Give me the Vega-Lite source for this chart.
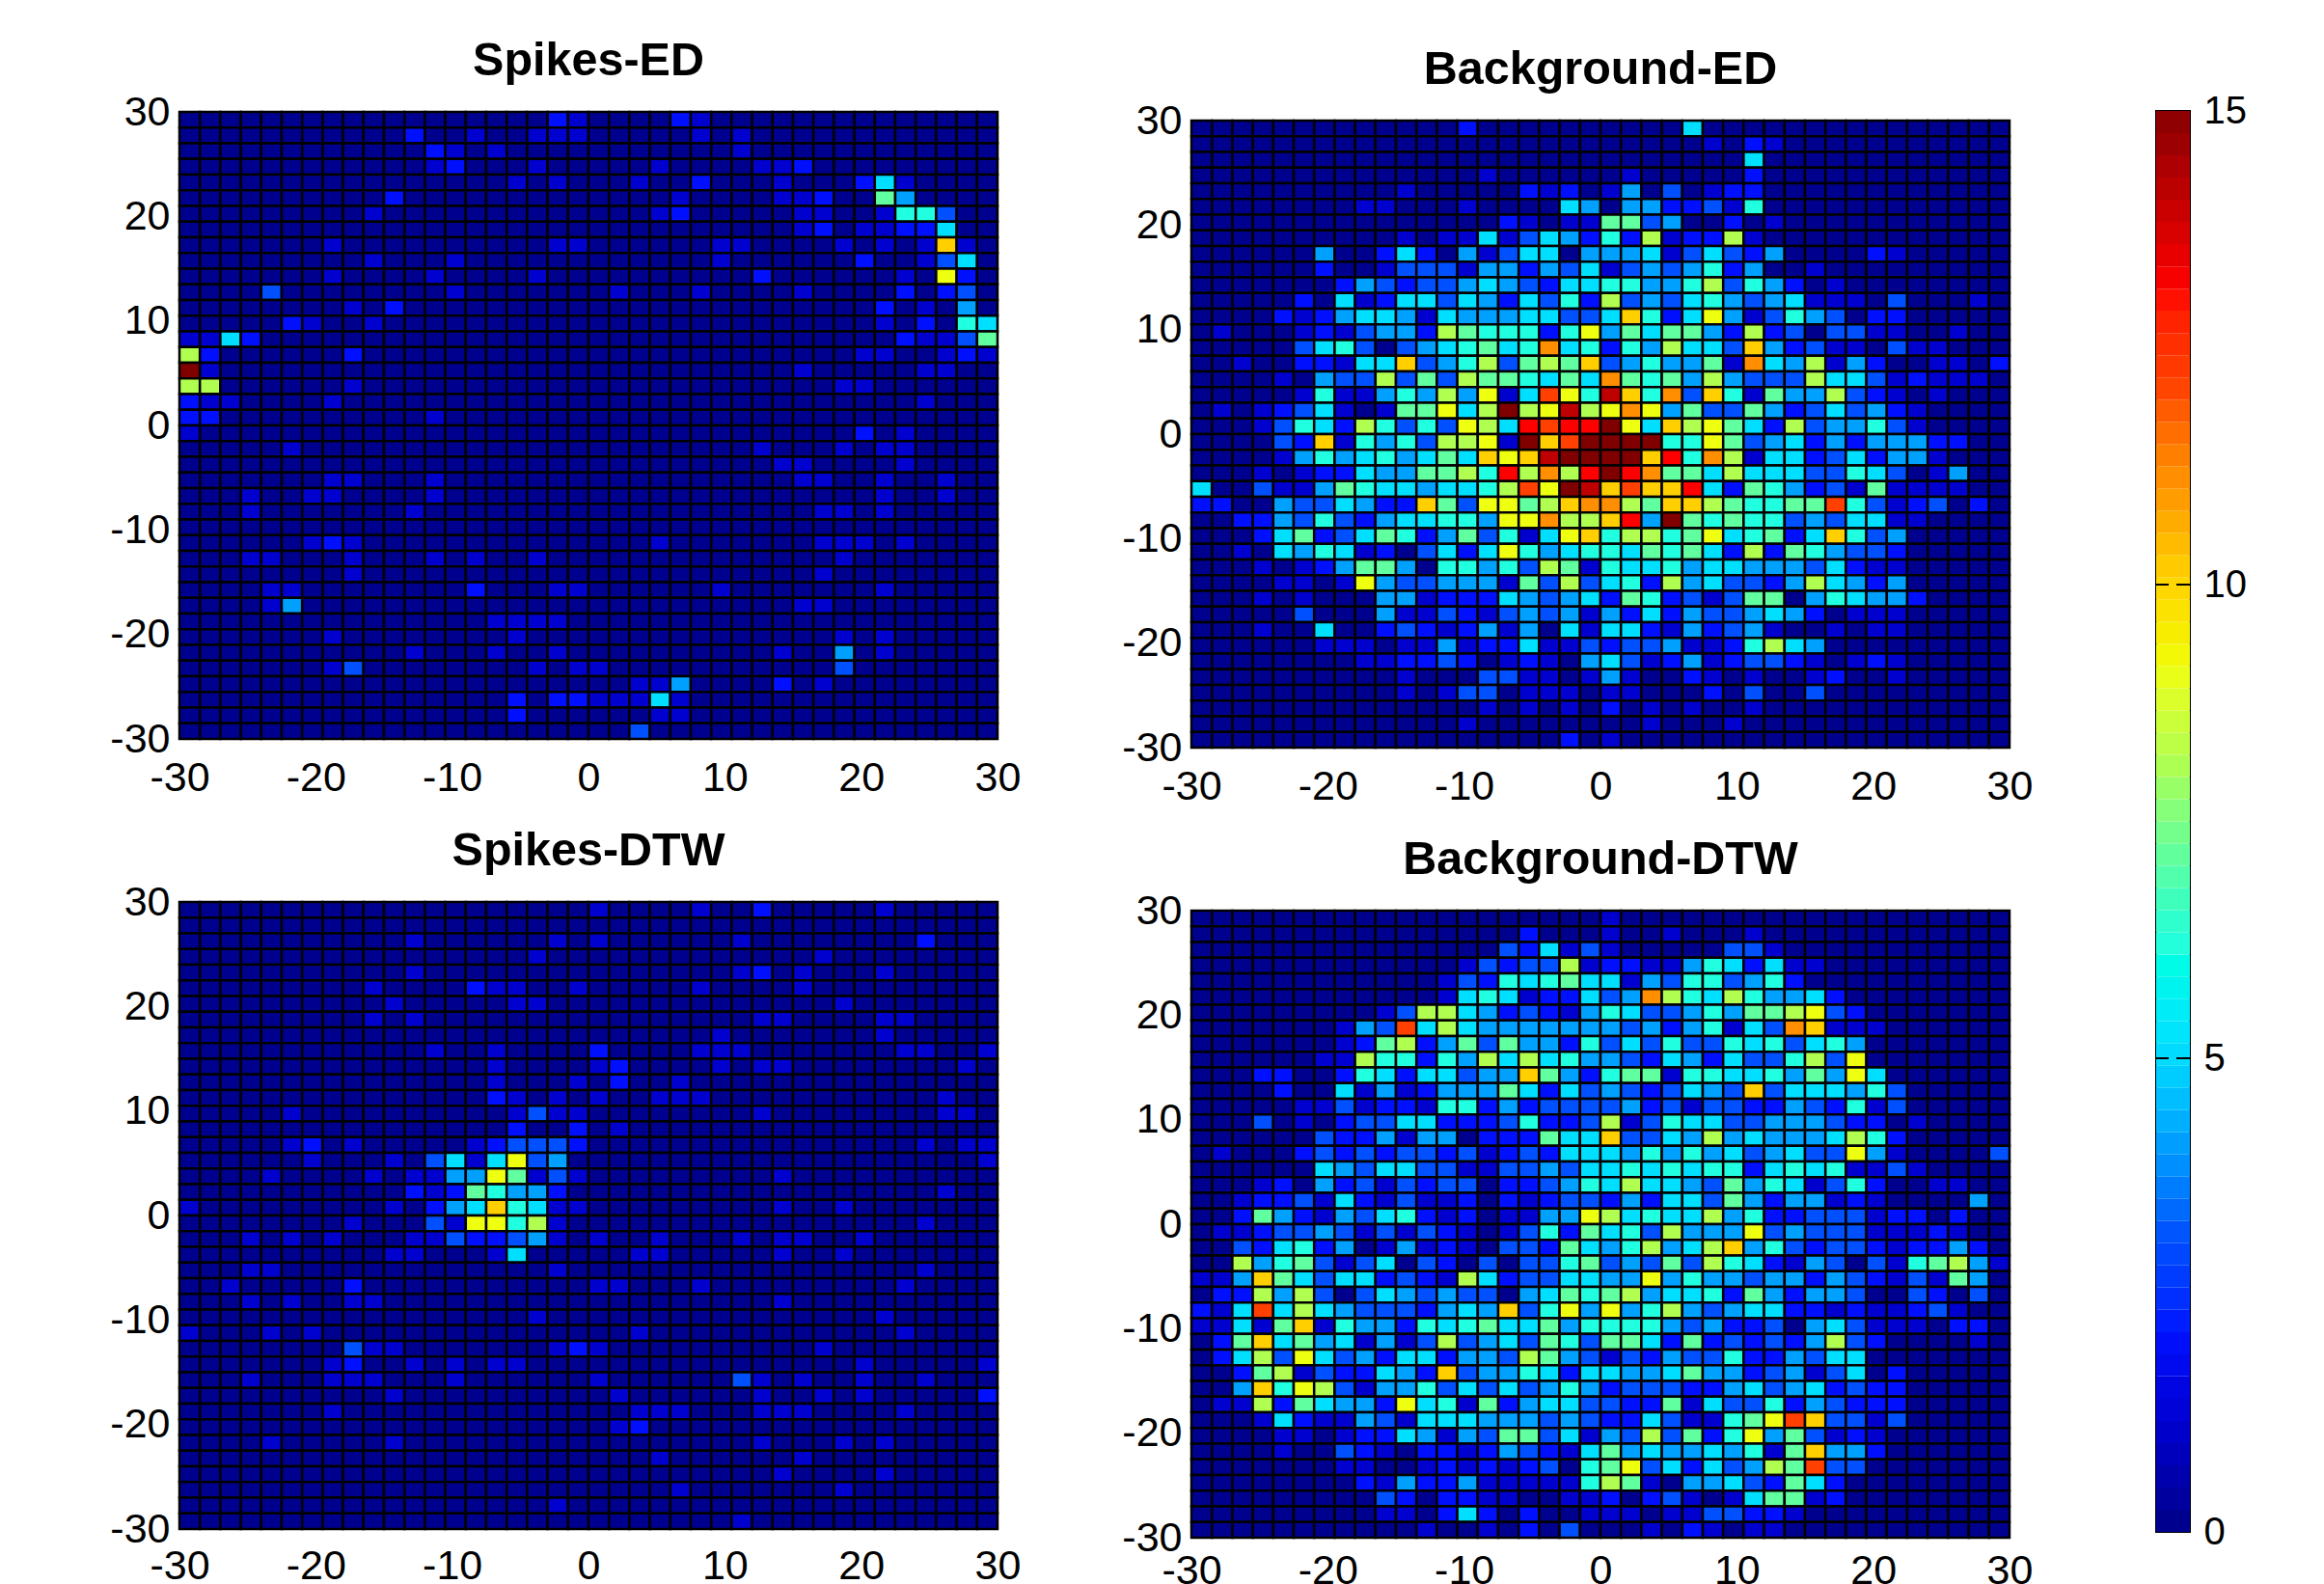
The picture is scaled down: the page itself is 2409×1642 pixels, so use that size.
{"$schema":"https://vega.github.io/schema/vega-lite/v6.json","padding":{"left":112,"top":9,"right":0,"bottom":0},"background":"white","spacing":125,
"config":{"view":{"stroke":"black","strokeWidth":2},"font":"Liberation Sans","axis":{"labelFont":"Liberation Sans","labelFontSize":43,"labelColor":"black","tickSize":0,"domain":false,"grid":false,"title":null,"labelOverlap":false,"labelFlush":false},"axisX":{"labelPadding":19},"axisY":{"labelPadding":10},"title":{"font":"Liberation Sans","fontSize":48.5,"fontWeight":"bold","color":"black","anchor":"middle","offset":7}},
"datasets":{
"none":[],
"cols":[{"c":1,"x0":-30,"x1":-28.5},{"c":2,"x0":-28.5,"x1":-27},{"c":3,"x0":-27,"x1":-25.5},{"c":4,"x0":-25.5,"x1":-24},{"c":5,"x0":-24,"x1":-22.5},{"c":6,"x0":-22.5,"x1":-21},{"c":7,"x0":-21,"x1":-19.5},{"c":8,"x0":-19.5,"x1":-18},{"c":9,"x0":-18,"x1":-16.5},{"c":10,"x0":-16.5,"x1":-15},{"c":11,"x0":-15,"x1":-13.5},{"c":12,"x0":-13.5,"x1":-12},{"c":13,"x0":-12,"x1":-10.5},{"c":14,"x0":-10.5,"x1":-9},{"c":15,"x0":-9,"x1":-7.5},{"c":16,"x0":-7.5,"x1":-6},{"c":17,"x0":-6,"x1":-4.5},{"c":18,"x0":-4.5,"x1":-3},{"c":19,"x0":-3,"x1":-1.5},{"c":20,"x0":-1.5,"x1":0},{"c":21,"x0":0,"x1":1.5},{"c":22,"x0":1.5,"x1":3},{"c":23,"x0":3,"x1":4.5},{"c":24,"x0":4.5,"x1":6},{"c":25,"x0":6,"x1":7.5},{"c":26,"x0":7.5,"x1":9},{"c":27,"x0":9,"x1":10.5},{"c":28,"x0":10.5,"x1":12},{"c":29,"x0":12,"x1":13.5},{"c":30,"x0":13.5,"x1":15},{"c":31,"x0":15,"x1":16.5},{"c":32,"x0":16.5,"x1":18},{"c":33,"x0":18,"x1":19.5},{"c":34,"x0":19.5,"x1":21},{"c":35,"x0":21,"x1":22.5},{"c":36,"x0":22.5,"x1":24},{"c":37,"x0":24,"x1":25.5},{"c":38,"x0":25.5,"x1":27},{"c":39,"x0":27,"x1":28.5},{"c":40,"x0":28.5,"x1":30}],
"spikesED":[
{"y0":28.5,"y1":30,"v":[0,0,0,0,0,0,0,0,0,0, 0,0,0,0,0,0,0,0,2,1, 0,0,0,0,2,1,0,0,0,0, 0,0,0,0,0,0,0,0,0,0]},
{"y0":27,"y1":28.5,"v":[0,0,0,0,0,0,0,0,0,0, 0,2,0,0,1,0,0,1,1,1, 0,0,0,0,0,1,0,1,0,0, 0,0,0,0,0,0,0,0,0,0]},
{"y0":25.5,"y1":27,"v":[0,0,0,0,0,0,0,0,0,0, 0,0,2,1,0,1,0,0,0,0, 0,0,0,0,0,0,0,1,0,0, 0,0,0,0,0,0,0,0,0,0]},
{"y0":24,"y1":25.5,"v":[0,0,0,0,0,0,0,0,0,0, 0,0,1,2,0,0,0,1,0,0, 0,0,0,1,0,0,0,0,1,1, 2,0,0,0,0,0,0,0,0,0]},
{"y0":22.5,"y1":24,"v":[0,0,0,0,0,0,0,0,0,0, 0,0,0,0,0,0,1,0,1,0, 0,0,1,0,0,2,0,0,0,1, 0,0,0,2,5,1,0,0,0,0]},
{"y0":21,"y1":22.5,"v":[0,0,0,0,0,0,0,0,0,0, 2,0,0,0,0,0,0,0,0,0, 0,0,0,0,1,0,0,0,0,1, 1,2,0,0,7,4,0,0,0,0]},
{"y0":19.5,"y1":21,"v":[0,0,0,0,0,0,0,0,0,1, 0,0,0,0,0,0,0,0,0,0, 0,0,0,1,2,0,0,0,0,0, 1,1,0,0,1,6,6,3,0,0]},
{"y0":18,"y1":19.5,"v":[0,0,0,0,0,0,0,0,0,0, 0,0,0,0,0,0,0,0,0,0, 0,0,0,0,0,0,0,0,0,0, 1,2,0,1,1,2,2,5,0,0]},
{"y0":16.5,"y1":18,"v":[0,0,0,0,0,0,0,1,0,0, 0,0,0,0,0,0,0,0,1,1, 0,0,0,0,0,0,1,1,0,0, 0,0,1,0,1,0,1,10,1,0]},
{"y0":15,"y1":16.5,"v":[0,0,0,0,0,0,0,0,0,1, 0,0,0,1,0,0,0,0,0,0, 0,0,0,0,0,0,1,0,0,0, 0,0,0,2,0,0,1,3,5,0]},
{"y0":13.5,"y1":15,"v":[0,0,0,0,0,0,0,1,0,0, 0,0,1,0,0,0,0,1,0,0, 0,0,0,0,0,0,0,0,2,0, 0,0,0,0,0,1,0,9,2,0]},
{"y0":12,"y1":13.5,"v":[0,0,0,0,3,0,0,0,0,0, 0,0,0,1,0,0,0,0,0,0, 0,1,0,0,0,1,0,0,0,0, 1,0,0,0,0,2,0,2,3,0]},
{"y0":10.5,"y1":12,"v":[0,0,0,0,0,0,0,0,1,0, 2,0,0,0,0,0,0,0,0,0, 0,0,0,0,0,0,0,0,0,0, 0,0,0,0,2,0,1,0,4,0]},
{"y0":9,"y1":10.5,"v":[0,0,0,0,0,2,1,0,0,1, 0,0,0,0,0,0,0,0,0,0, 0,0,0,0,0,0,0,0,0,0, 0,0,0,0,1,0,2,0,6,5]},
{"y0":7.5,"y1":9,"v":[1,1,5,2,0,0,0,0,0,0, 0,0,0,0,0,0,0,0,0,0, 0,0,0,0,0,0,0,0,0,0, 0,0,0,0,0,2,1,1,3,7]},
{"y0":6,"y1":7.5,"v":[8,2,0,0,0,0,0,0,2,0, 0,0,0,0,0,0,0,0,0,0, 0,0,0,0,0,0,0,0,0,0, 0,0,0,1,1,0,0,1,2,1]},
{"y0":4.5,"y1":6,"v":[15,1,0,0,0,0,0,0,0,0, 0,0,0,0,0,0,0,0,0,0, 0,0,0,0,0,0,0,0,0,0, 1,0,0,0,0,0,1,1,0,0]},
{"y0":3,"y1":4.5,"v":[8,8,0,0,0,0,0,0,1,0, 0,0,0,0,0,0,0,0,0,0, 0,0,0,0,0,0,0,0,0,0, 0,0,1,1,0,0,0,0,0,0]},
{"y0":1.5,"y1":3,"v":[2,1,1,0,0,0,0,1,0,0, 0,0,0,0,0,0,0,0,0,0, 0,0,0,0,0,0,0,0,0,0, 0,0,0,0,0,0,1,0,0,0]},
{"y0":0,"y1":1.5,"v":[2,2,0,0,0,0,0,0,0,0, 0,0,1,0,0,0,0,0,0,0, 0,0,0,0,0,0,0,0,0,0, 0,0,0,0,0,0,0,0,0,0]},
{"y0":-1.5,"y1":0,"v":[1,0,0,0,0,0,0,0,0,0, 0,0,0,0,0,0,0,0,0,0, 0,0,0,0,0,0,0,0,0,0, 0,0,0,2,0,1,0,0,0,0]},
{"y0":-3,"y1":-1.5,"v":[0,0,0,0,0,1,0,0,0,0, 0,0,0,0,0,0,0,0,0,0, 0,0,0,0,0,0,0,0,1,0, 0,0,1,0,1,1,0,0,0,0]},
{"y0":-4.5,"y1":-3,"v":[0,0,0,0,0,0,0,0,0,0, 0,0,0,0,0,0,0,0,0,0, 0,0,0,0,0,0,0,0,0,1, 1,0,0,0,0,1,0,0,0,0]},
{"y0":-6,"y1":-4.5,"v":[0,0,0,0,0,0,0,1,1,0, 0,0,1,0,0,0,0,0,0,0, 0,0,0,0,0,0,0,0,0,0, 1,1,0,0,1,0,0,1,0,0]},
{"y0":-7.5,"y1":-6,"v":[0,0,0,1,0,0,1,1,0,0, 0,0,1,0,0,0,0,0,0,0, 0,0,0,0,0,0,0,0,0,0, 0,0,0,0,1,0,0,1,0,0]},
{"y0":-9,"y1":-7.5,"v":[0,0,0,1,0,0,0,0,0,0, 0,1,0,0,0,0,0,0,0,0, 0,0,0,0,0,0,0,0,0,0, 0,1,1,0,1,0,0,0,0,0]},
{"y0":-10.5,"y1":-9,"v":[0,0,0,0,0,0,0,0,0,0, 0,0,0,0,0,0,0,0,0,0, 0,0,0,0,0,0,0,0,0,0, 0,0,0,0,0,0,0,0,0,0]},
{"y0":-12,"y1":-10.5,"v":[0,0,0,0,0,0,1,2,1,0, 0,0,0,0,0,0,0,0,0,0, 0,0,0,1,0,0,0,0,0,0, 0,1,1,1,0,1,0,0,0,0]},
{"y0":-13.5,"y1":-12,"v":[0,0,0,1,1,0,0,0,1,0, 0,0,1,0,1,0,0,1,0,0, 0,0,0,0,0,0,0,0,0,0, 0,0,1,0,0,0,0,0,0,0]},
{"y0":-15,"y1":-13.5,"v":[0,0,0,0,0,0,0,0,1,0, 0,0,0,0,0,0,0,0,0,0, 0,0,0,0,0,0,0,0,0,0, 0,1,0,0,0,0,0,0,0,0]},
{"y0":-16.5,"y1":-15,"v":[0,0,0,0,1,1,0,0,0,0, 0,0,0,0,2,0,0,0,1,1, 0,0,0,0,0,0,1,0,0,0, 0,0,0,0,1,0,0,0,0,0]},
{"y0":-18,"y1":-16.5,"v":[0,0,0,0,1,4,0,0,0,0, 0,0,0,0,0,0,0,0,0,0, 0,0,0,0,0,0,0,0,0,0, 1,1,0,0,0,0,0,0,0,0]},
{"y0":-19.5,"y1":-18,"v":[0,0,0,0,0,0,0,0,0,0, 0,0,0,0,0,1,1,1,1,0, 0,0,0,0,0,0,0,0,0,0, 0,0,0,0,0,0,0,0,0,0]},
{"y0":-21,"y1":-19.5,"v":[0,0,0,0,0,0,0,1,0,0, 0,0,0,0,0,0,1,0,0,0, 0,0,0,0,0,0,0,0,0,0, 0,0,1,0,1,0,0,0,0,0]},
{"y0":-22.5,"y1":-21,"v":[0,0,0,0,0,0,0,0,0,0, 0,1,0,0,0,1,0,0,1,0, 0,0,0,0,0,0,0,0,0,1, 0,0,4,0,1,0,0,0,0,0]},
{"y0":-24,"y1":-22.5,"v":[0,0,0,0,0,0,0,1,3,0, 0,0,0,0,0,0,0,1,0,1, 1,0,0,0,0,0,0,0,0,0, 0,0,3,0,0,0,0,0,0,0]},
{"y0":-25.5,"y1":-24,"v":[0,0,0,0,0,0,0,0,0,0, 0,0,0,0,0,0,0,0,0,0, 0,0,1,1,4,0,0,0,0,2, 0,1,0,0,0,0,0,0,0,0]},
{"y0":-27,"y1":-25.5,"v":[0,0,0,0,0,0,0,0,0,0, 0,0,0,0,0,0,2,0,2,2, 1,1,1,5,1,0,0,0,0,0, 0,0,0,0,0,0,0,0,0,0]},
{"y0":-28.5,"y1":-27,"v":[0,0,0,0,0,0,0,0,0,0, 0,0,0,0,0,0,2,0,0,0, 0,0,0,1,1,0,0,0,0,0, 0,0,0,0,0,0,0,0,0,0]},
{"y0":-30,"y1":-28.5,"v":[0,0,0,0,0,0,0,0,0,0, 0,0,0,0,0,0,0,0,0,0, 0,0,3,0,0,0,0,0,0,0, 0,0,0,0,0,0,0,0,0,0]}
],
"spikesDTW":[
{"y0":28.5,"y1":30,"v":[0,0,0,0,0,0,0,0,0,0, 0,0,0,0,0,0,0,0,0,0, 1,0,0,0,0,1,0,0,2,0, 0,0,0,0,1,0,0,0,0,0]},
{"y0":27,"y1":28.5,"v":[0,0,0,0,0,0,0,0,0,0, 0,0,0,0,0,0,0,0,0,0, 0,0,0,0,0,0,0,0,0,0, 0,0,0,0,0,0,0,0,0,0]},
{"y0":25.5,"y1":27,"v":[0,0,0,0,0,0,0,0,0,0, 0,1,0,0,0,0,0,0,1,0, 1,0,0,0,0,0,0,1,0,0, 0,0,0,0,0,0,2,0,0,0]},
{"y0":24,"y1":25.5,"v":[0,0,0,0,0,0,0,0,0,0, 0,0,0,0,0,0,0,1,0,0, 0,0,0,0,0,0,0,0,0,0, 0,1,0,0,0,0,0,0,0,0]},
{"y0":22.5,"y1":24,"v":[0,0,0,0,0,0,0,0,0,0, 0,1,0,0,0,0,0,0,0,0, 0,0,0,0,0,0,0,1,2,0, 1,0,0,0,1,0,0,0,0,0]},
{"y0":21,"y1":22.5,"v":[0,0,0,0,0,0,0,0,0,1, 0,0,0,0,2,1,1,0,0,1, 0,0,0,0,0,1,0,0,0,0, 1,0,0,0,0,0,0,0,0,0]},
{"y0":19.5,"y1":21,"v":[0,0,0,0,0,0,0,0,0,0, 1,0,0,0,0,0,1,1,0,0, 0,0,0,0,0,0,0,0,0,0, 0,0,1,0,0,0,0,0,0,0]},
{"y0":18,"y1":19.5,"v":[0,0,0,0,0,0,0,0,0,1, 0,1,0,0,0,0,0,0,0,0, 0,0,0,0,0,0,0,0,1,1, 0,0,0,0,1,1,0,0,0,0]},
{"y0":16.5,"y1":18,"v":[0,0,0,0,0,0,0,0,0,0, 0,0,0,0,0,0,0,0,0,0, 0,0,0,0,0,0,1,0,0,0, 0,0,0,0,1,0,0,0,0,0]},
{"y0":15,"y1":16.5,"v":[0,0,0,0,0,0,0,0,0,0, 0,0,1,0,0,1,0,0,0,0, 2,0,0,0,0,1,1,1,0,0, 0,0,0,0,0,1,1,0,0,1]},
{"y0":13.5,"y1":15,"v":[0,0,0,0,0,0,0,0,0,0, 0,0,0,0,0,1,0,0,0,0, 1,2,0,0,0,0,1,0,1,1, 0,0,0,0,0,0,0,0,1,0]},
{"y0":12,"y1":13.5,"v":[0,0,0,0,0,0,0,0,0,0, 0,0,0,0,0,1,0,0,0,1, 0,2,0,0,1,0,0,0,0,0, 0,0,0,0,0,0,0,0,0,0]},
{"y0":10.5,"y1":12,"v":[0,0,0,0,0,0,0,0,0,0, 0,0,0,0,0,2,1,0,1,0, 1,0,0,1,1,1,0,0,0,0, 0,0,0,0,0,0,0,1,0,0]},
{"y0":9,"y1":10.5,"v":[0,0,0,0,0,1,0,0,0,0, 0,0,0,0,0,0,1,3,1,1, 0,0,0,0,0,0,0,0,1,0, 0,0,0,0,0,0,0,1,1,0]},
{"y0":7.5,"y1":9,"v":[0,0,0,0,0,0,0,0,0,0, 0,0,0,0,0,0,2,0,0,2, 0,1,0,0,0,0,0,0,0,0, 0,0,0,0,0,0,0,0,0,0]},
{"y0":6,"y1":7.5,"v":[0,0,0,0,0,1,2,0,1,0, 0,0,0,0,1,2,3,3,3,2, 0,0,0,0,0,0,0,0,0,0, 0,0,0,0,0,0,1,0,1,1]},
{"y0":4.5,"y1":6,"v":[0,0,0,0,0,0,1,0,0,0, 1,0,3,5,1,5,9,3,4,0, 0,0,0,0,0,0,0,0,0,0, 0,0,0,0,0,0,0,0,0,1]},
{"y0":3,"y1":4.5,"v":[0,0,0,0,1,0,0,0,0,1, 0,1,1,4,4,9,7,1,3,1, 0,0,0,0,0,0,0,0,0,1, 0,0,0,0,0,0,0,0,0,0]},
{"y0":1.5,"y1":3,"v":[0,0,0,0,0,0,0,0,0,0, 0,2,1,2,7,6,4,4,2,0, 0,0,0,0,0,0,0,0,0,0, 0,0,0,0,0,0,0,1,0,0]},
{"y0":0,"y1":1.5,"v":[1,0,0,0,0,0,0,0,0,0, 1,0,2,4,5,10,6,5,1,1, 0,0,0,0,0,0,0,0,0,1, 0,0,1,0,0,0,0,0,0,0]},
{"y0":-1.5,"y1":0,"v":[0,0,0,0,0,0,0,0,1,0, 0,0,3,1,9,9,6,8,1,0, 0,0,0,0,0,0,0,0,0,0, 0,0,0,0,0,0,1,0,0,0]},
{"y0":-3,"y1":-1.5,"v":[0,0,0,1,0,1,0,1,0,0, 0,1,1,3,2,2,3,4,1,0, 1,0,0,1,0,0,0,1,0,1, 1,0,0,1,0,0,0,0,0,0]},
{"y0":-4.5,"y1":-3,"v":[0,0,0,0,0,0,0,0,0,0, 1,1,0,0,0,1,5,0,0,0, 0,0,1,1,0,0,0,0,0,1, 0,0,1,0,0,0,0,0,0,0]},
{"y0":-6,"y1":-4.5,"v":[0,0,0,1,1,0,0,0,0,0, 0,0,0,0,0,0,0,0,1,0, 0,0,0,0,0,0,0,0,0,0, 0,0,0,0,0,0,1,0,0,0]},
{"y0":-7.5,"y1":-6,"v":[0,0,1,0,0,0,0,0,2,0, 0,0,0,0,0,0,0,0,0,0, 1,1,0,0,0,1,0,0,0,0, 0,0,0,0,0,1,0,0,0,0]},
{"y0":-9,"y1":-7.5,"v":[0,0,0,1,0,1,0,0,1,1, 0,0,0,0,0,0,0,0,0,0, 0,0,0,0,0,0,0,0,0,1, 0,0,0,0,0,0,0,0,0,0]},
{"y0":-10.5,"y1":-9,"v":[0,0,0,0,0,0,0,0,0,0, 0,0,0,0,0,0,0,1,0,0, 0,0,0,0,0,0,0,0,0,0, 0,0,0,0,1,0,0,0,0,0]},
{"y0":-12,"y1":-10.5,"v":[1,0,0,0,1,0,1,0,0,0, 0,0,0,0,0,0,0,0,0,0, 0,0,1,0,0,0,0,0,0,0, 0,0,0,0,0,1,0,0,0,0]},
{"y0":-13.5,"y1":-12,"v":[0,0,0,0,0,0,0,0,3,1, 1,0,0,0,0,0,0,0,1,2, 1,0,0,0,0,0,0,0,0,0, 0,1,0,0,0,0,0,0,0,0]},
{"y0":-15,"y1":-13.5,"v":[0,0,0,0,0,0,0,1,2,0, 0,1,0,1,0,1,1,0,0,0, 0,0,0,0,0,0,0,0,0,0, 0,0,0,1,0,0,0,0,0,1]},
{"y0":-16.5,"y1":-15,"v":[0,0,0,1,0,0,0,1,1,1, 0,0,0,1,0,0,0,0,0,0, 1,0,0,0,0,0,0,3,1,0, 1,0,0,1,0,0,1,0,0,0]},
{"y0":-18,"y1":-16.5,"v":[0,0,0,0,0,0,0,0,0,0, 1,0,0,0,0,0,0,0,0,0, 0,1,0,0,0,0,0,0,1,0, 0,1,0,1,0,0,0,0,0,2]},
{"y0":-19.5,"y1":-18,"v":[0,0,0,0,0,0,0,1,0,0, 0,0,0,0,0,0,0,0,0,0, 0,0,1,1,1,0,0,0,1,1, 1,0,0,0,0,1,0,0,0,0]},
{"y0":-21,"y1":-19.5,"v":[0,0,0,0,0,0,0,0,0,0, 0,0,0,0,0,0,0,0,0,0, 0,1,2,0,0,0,0,0,0,0, 0,0,0,0,0,0,0,0,0,0]},
{"y0":-22.5,"y1":-21,"v":[0,0,0,0,1,0,0,0,0,0, 1,0,0,0,0,0,0,0,0,0, 0,0,0,0,0,0,0,0,1,0, 0,0,1,0,1,0,0,0,0,0]},
{"y0":-24,"y1":-22.5,"v":[0,0,0,0,0,0,0,0,0,0, 0,0,0,0,0,0,0,0,0,0, 0,0,0,1,0,0,0,0,0,0, 1,0,0,0,0,0,0,0,0,0]},
{"y0":-25.5,"y1":-24,"v":[0,0,0,0,0,0,0,0,0,0, 0,0,0,0,0,0,0,0,0,0, 0,0,0,0,0,0,0,0,0,1, 0,0,0,0,1,0,0,0,0,0]},
{"y0":-27,"y1":-25.5,"v":[0,0,0,0,0,0,0,0,0,0, 0,0,0,0,0,0,0,0,0,0, 0,0,0,0,1,0,0,0,0,0, 0,0,1,0,0,0,0,0,0,0]},
{"y0":-28.5,"y1":-27,"v":[0,0,0,0,0,0,0,0,0,0, 0,0,0,0,0,0,0,0,1,0, 0,0,0,0,0,0,0,0,0,0, 0,0,0,0,0,0,0,0,0,0]},
{"y0":-30,"y1":-28.5,"v":[0,0,0,0,0,0,0,0,0,0, 0,0,0,0,0,0,0,0,0,0, 0,0,0,0,0,0,0,1,0,0, 0,0,0,0,0,0,0,0,0,0]}
],
"bgED":[
{"y0":28.5,"y1":30,"v":[0,0,0,0,0,0,0,0,0,0, 0,0,0,2,0,0,0,0,0,0, 0,0,0,0,5,0,0,0,0,0, 0,0,0,0,0,0,0,0,0,0]},
{"y0":27,"y1":28.5,"v":[0,0,0,0,0,0,0,0,0,0, 0,0,0,0,0,0,0,0,0,0, 0,0,0,0,0,1,0,2,1,0, 0,0,0,0,0,0,0,0,0,0]},
{"y0":25.5,"y1":27,"v":[0,0,0,0,0,0,0,0,0,0, 0,0,0,0,0,0,0,0,0,0, 0,0,0,0,0,0,0,5,0,0, 0,0,0,0,0,0,0,0,0,0]},
{"y0":24,"y1":25.5,"v":[0,0,0,0,0,0,0,0,0,0, 0,0,0,0,1,0,0,0,0,0, 0,1,0,0,0,0,0,2,0,0, 0,0,0,0,0,0,0,0,0,0]},
{"y0":22.5,"y1":24,"v":[0,0,0,0,0,0,0,0,0,0, 1,0,0,0,0,0,2,1,2,0, 1,4,0,3,0,1,2,2,0,0, 0,0,0,0,0,0,0,0,0,0]},
{"y0":21,"y1":22.5,"v":[0,0,0,0,0,0,0,0,1,1, 0,0,0,1,0,0,0,0,5,4, 0,4,4,2,2,3,1,6,0,0, 0,0,0,0,0,0,0,0,0,0]},
{"y0":19.5,"y1":21,"v":[0,0,0,0,0,0,0,0,0,0, 0,0,0,0,0,2,1,0,1,1, 7,7,3,4,0,0,2,0,1,0, 0,0,0,0,0,0,0,0,0,0]},
{"y0":18,"y1":19.5,"v":[0,0,0,0,0,0,0,0,0,0, 1,0,1,1,5,1,3,5,4,2, 6,2,8,1,2,2,8,1,0,0, 0,0,0,0,0,0,0,0,0,0]},
{"y0":16.5,"y1":18,"v":[0,0,0,0,0,0,4,0,0,2, 5,2,0,4,1,3,5,5,0,4, 4,4,5,1,3,5,3,2,4,0, 0,0,0,2,1,0,0,0,0,0]},
{"y0":15,"y1":16.5,"v":[0,0,0,0,0,0,2,0,0,1, 3,3,3,1,4,4,2,4,3,5, 1,3,4,3,4,6,2,4,0,0, 1,0,0,0,0,0,0,0,0,0]},
{"y0":13.5,"y1":15,"v":[0,0,0,0,0,0,0,2,4,3, 2,3,3,4,5,4,3,2,5,5, 6,6,4,4,6,8,3,6,4,2, 0,1,0,0,0,0,0,0,0,0]},
{"y0":12,"y1":13.5,"v":[0,0,0,0,0,2,0,5,1,2, 5,5,3,5,4,2,5,3,6,2, 8,3,4,3,5,6,4,3,4,5, 1,1,1,0,3,0,0,0,1,0]},
{"y0":10.5,"y1":12,"v":[0,0,0,0,2,1,2,4,5,5, 4,1,5,4,4,4,5,5,3,3, 5,10,6,2,5,9,4,1,3,6, 4,3,0,2,2,0,0,0,0,0]},
{"y0":9,"y1":10.5,"v":[0,1,0,0,0,1,2,1,3,4, 4,2,8,7,6,6,6,2,6,9, 4,7,5,7,7,4,2,8,2,3, 0,3,3,1,1,0,0,1,0,0]},
{"y0":7.5,"y1":9,"v":[0,0,0,0,0,3,5,6,3,0, 3,4,5,6,7,5,6,11,5,6, 2,6,4,8,5,5,3,10,4,2, 3,1,1,0,3,1,1,0,0,0]},
{"y0":6,"y1":7.5,"v":[0,0,1,0,0,2,2,1,5,5, 10,3,4,6,8,3,7,8,7,10, 3,4,6,4,4,7,1,11,5,4, 8,1,4,2,0,0,1,1,0,2]},
{"y0":4.5,"y1":6,"v":[0,0,0,0,1,0,4,3,3,8, 3,7,3,8,7,7,6,5,7,5, 11,7,6,7,4,8,4,3,3,3, 8,5,5,3,1,2,1,1,1,0]},
{"y0":3,"y1":4.5,"v":[0,0,0,0,0,1,6,1,1,4, 6,4,8,4,9,1,5,12,9,6, 14,10,6,11,3,10,6,1,7,4, 4,8,3,2,1,0,1,0,0,0]},
{"y0":1.5,"y1":3,"v":[0,1,0,1,2,3,5,1,0,1, 7,7,9,5,8,15,8,9,14,8, 9,11,9,4,7,3,3,7,4,2, 3,5,3,4,2,1,0,0,0,0]},
{"y0":0,"y1":1.5,"v":[0,0,0,1,3,6,5,2,8,6, 3,6,3,9,8,5,13,12,13,13, 15,9,5,10,8,9,7,5,2,8, 3,4,4,6,3,1,0,0,0,0]},
{"y0":-1.5,"y1":0,"v":[0,0,0,0,3,2,10,1,6,4, 6,3,8,8,9,1,15,10,12,15, 15,15,15,6,6,9,7,3,4,5, 2,4,2,4,4,4,2,2,0,0]},
{"y0":-3,"y1":-1.5,"v":[0,0,0,0,1,4,6,4,5,6, 4,5,7,5,10,9,10,14,15,15, 15,15,10,13,6,11,8,1,5,5, 2,3,5,2,4,4,1,0,0,0]},
{"y0":-4.5,"y1":-3,"v":[0,0,0,1,0,1,2,2,5,4, 4,7,7,8,6,13,8,11,8,13, 15,13,11,7,7,5,8,5,5,5, 3,3,6,5,3,0,1,4,0,0]},
{"y0":-6,"y1":-4.5,"v":[5,0,0,3,1,1,4,7,6,5, 5,4,5,5,6,8,12,9,15,14, 10,12,10,10,13,5,2,7,6,4, 2,3,1,7,1,1,1,1,0,0]},
{"y0":-7.5,"y1":-6,"v":[2,2,0,0,4,3,3,5,4,2, 2,10,7,3,9,9,7,8,10,11, 11,8,7,10,10,8,7,6,6,7, 7,12,6,3,1,2,3,0,2,0]},
{"y0":-9,"y1":-7.5,"v":[0,0,2,2,4,3,6,3,2,4, 5,5,6,6,4,9,9,11,8,8, 10,13,4,15,7,6,7,6,6,3, 4,3,5,5,1,1,0,0,0,0]},
{"y0":-10.5,"y1":-9,"v":[0,0,0,2,5,7,2,3,5,7, 6,2,4,7,3,6,1,5,9,10, 6,8,8,6,7,9,5,6,7,2, 5,10,6,3,4,0,0,0,0,0]},
{"y0":-12,"y1":-10.5,"v":[0,0,1,0,5,4,6,5,1,2, 0,3,5,2,5,9,6,4,5,6, 6,5,7,6,7,5,2,8,2,7, 6,4,3,3,2,0,0,0,0,0]},
{"y0":-13.5,"y1":-12,"v":[0,0,0,1,0,1,2,4,7,7, 4,0,6,6,4,6,3,8,7,1, 6,5,5,6,4,5,5,4,4,4, 3,5,2,1,1,0,0,0,0,0]},
{"y0":-15,"y1":-13.5,"v":[0,0,0,0,1,1,0,1,9,4, 3,3,4,4,4,1,7,3,8,3, 5,6,2,8,4,5,3,3,2,4, 8,5,4,2,4,0,0,0,0,0]},
{"y0":-16.5,"y1":-15,"v":[0,0,0,1,0,1,0,0,0,4, 4,1,2,2,2,5,4,3,4,5, 2,7,6,2,3,1,3,7,7,0, 4,6,5,4,4,2,0,0,0,0]},
{"y0":-18,"y1":-16.5,"v":[0,0,0,0,0,3,0,0,0,4, 1,1,3,2,1,3,4,3,4,1, 4,2,5,2,4,3,3,4,5,4, 2,0,1,1,1,0,0,0,0,0]},
{"y0":-19.5,"y1":-18,"v":[0,0,0,1,0,0,5,0,0,2, 3,2,1,2,4,1,4,0,5,1, 5,5,2,1,4,2,3,4,1,0, 0,1,0,1,1,0,0,0,0,0]},
{"y0":-21,"y1":-19.5,"v":[0,0,0,0,0,0,1,1,1,0, 1,1,4,1,2,2,5,1,1,3, 2,3,3,4,1,1,2,6,8,5, 4,0,0,0,0,0,0,0,0,0]},
{"y0":-22.5,"y1":-21,"v":[0,0,0,0,0,0,0,0,1,1, 2,2,3,2,0,1,2,1,0,4, 5,3,1,2,4,1,2,3,3,2, 1,0,1,2,1,0,0,0,0,0]},
{"y0":-24,"y1":-22.5,"v":[0,0,0,0,0,0,0,0,0,0, 1,0,0,0,3,3,1,1,0,1, 4,1,0,0,2,1,0,1,0,0, 1,2,0,0,1,0,0,0,0,0]},
{"y0":-25.5,"y1":-24,"v":[0,0,0,0,0,0,0,0,0,0, 1,0,1,3,3,0,1,1,1,0, 1,1,0,0,0,2,0,3,0,0, 3,0,0,0,0,0,0,0,0,0]},
{"y0":-27,"y1":-25.5,"v":[0,0,0,0,0,0,0,0,0,0, 0,0,0,0,1,0,1,0,1,0, 2,0,1,0,1,0,0,1,0,0, 0,0,0,0,0,0,0,0,0,0]},
{"y0":-28.5,"y1":-27,"v":[0,0,0,0,0,0,0,0,0,0, 0,0,0,1,0,0,0,0,0,0, 0,0,1,0,0,0,1,0,0,0, 0,0,0,0,0,0,0,0,0,0]},
{"y0":-30,"y1":-28.5,"v":[0,0,0,0,0,0,0,0,0,0, 0,0,0,0,0,0,0,0,2,0, 1,0,0,0,0,0,0,0,0,0, 0,0,0,0,0,0,0,0,0,0]}
],
"bgDTW":[
{"y0":28.5,"y1":30,"v":[0,0,0,0,0,0,0,0,0,0, 0,0,0,0,0,0,0,0,0,0, 1,0,0,0,0,0,0,0,0,0, 0,0,0,0,0,0,0,0,0,0]},
{"y0":27,"y1":28.5,"v":[0,0,0,0,0,0,0,0,0,0, 0,0,0,0,0,0,2,0,0,0, 1,0,0,1,0,0,0,1,0,0, 0,0,0,0,0,0,0,0,0,0]},
{"y0":25.5,"y1":27,"v":[0,0,0,0,0,0,0,0,0,0, 0,0,0,0,0,3,2,5,1,3, 1,0,0,0,0,0,3,3,1,0, 0,0,0,0,0,0,0,0,0,0]},
{"y0":24,"y1":25.5,"v":[0,0,0,0,0,0,0,0,0,0, 0,0,0,1,3,2,3,3,8,1, 2,2,1,1,4,6,5,2,5,1, 1,0,0,0,0,0,0,0,0,0]},
{"y0":22.5,"y1":24,"v":[0,0,0,0,0,0,0,0,0,0, 0,0,1,3,2,6,5,6,7,5, 5,1,4,3,6,6,3,4,6,2, 0,0,0,0,0,0,0,0,0,0]},
{"y0":21,"y1":22.5,"v":[0,0,0,0,0,0,0,0,0,0, 0,0,1,5,6,5,1,2,2,5, 3,4,11,8,6,5,8,6,4,4, 5,2,0,0,0,0,0,0,0,0]},
{"y0":19.5,"y1":21,"v":[0,0,0,0,0,0,0,0,0,1, 3,8,8,5,4,2,3,2,1,4, 6,5,3,3,4,6,4,7,7,8, 9,3,2,0,0,0,0,0,0,0]},
{"y0":18,"y1":19.5,"v":[0,0,0,0,0,0,0,1,4,3, 12,5,8,5,4,4,4,4,4,4, 4,3,4,2,4,6,1,5,3,11, 10,1,1,1,0,0,0,0,0,0]},
{"y0":16.5,"y1":18,"v":[0,0,0,0,0,0,0,1,2,7, 8,2,4,7,3,7,4,4,2,6, 3,5,3,6,3,3,6,5,6,3, 5,6,4,0,0,0,0,0,0,0]},
{"y0":15,"y1":16.5,"v":[0,0,0,0,0,0,1,1,8,6, 6,2,6,4,8,5,8,5,6,4, 4,3,2,5,4,2,5,3,3,6, 8,3,9,0,0,0,0,0,0,0]},
{"y0":13.5,"y1":15,"v":[0,0,0,2,2,0,0,2,6,5, 2,5,5,3,4,4,10,7,4,2, 6,7,7,1,6,6,5,5,6,4, 7,4,9,5,0,0,0,0,0,0]},
{"y0":12,"y1":13.5,"v":[0,0,0,0,2,0,0,5,1,4, 1,2,4,4,4,7,5,2,5,3, 4,3,2,3,5,4,3,10,3,5, 5,5,4,6,3,0,0,0,0,0]},
{"y0":10.5,"y1":12,"v":[0,0,0,0,0,1,1,3,1,2, 2,1,6,6,2,4,2,3,3,3, 3,4,2,3,1,3,3,2,2,4, 3,2,6,1,3,0,0,0,0,0]},
{"y0":9,"y1":10.5,"v":[0,0,0,3,0,1,0,2,3,3, 5,5,2,2,2,3,6,2,2,3, 8,1,3,6,5,5,3,3,4,4, 4,3,2,2,0,1,0,0,0,0]},
{"y0":7.5,"y1":9,"v":[0,0,0,0,0,0,3,2,2,4, 1,4,4,0,2,2,2,7,5,5, 10,3,3,5,4,8,4,5,4,4, 4,5,8,6,2,0,0,0,0,0]},
{"y0":6,"y1":7.5,"v":[0,1,0,0,0,2,3,2,3,2, 3,3,2,3,1,2,3,2,5,5, 5,4,6,4,6,4,5,3,4,5, 3,3,9,4,1,0,0,0,0,3]},
{"y0":4.5,"y1":6,"v":[0,0,0,0,0,0,5,4,3,5, 5,3,3,1,1,3,3,4,3,5, 5,6,5,6,5,6,6,2,5,6, 5,6,1,1,3,1,0,0,0,0]},
{"y0":3,"y1":4.5,"v":[0,0,0,1,2,0,4,2,3,1, 3,2,3,3,0,2,2,3,4,6, 5,8,5,5,4,3,7,4,6,5, 1,3,6,2,0,0,1,1,0,0]},
{"y0":1.5,"y1":3,"v":[0,0,1,2,2,3,1,5,2,1, 3,1,1,2,0,2,1,2,3,3, 2,4,2,5,5,3,7,4,2,4, 4,1,2,1,0,0,0,0,4,0]},
{"y0":0,"y1":1.5,"v":[0,0,2,7,4,2,1,4,3,5, 6,2,1,2,0,1,1,4,4,9, 8,5,6,5,5,8,4,6,2,2, 3,3,3,1,2,2,0,2,0,0]},
{"y0":-1.5,"y1":0,"v":[0,1,1,2,3,3,4,3,1,3, 1,3,2,1,0,1,3,6,2,7, 5,6,3,8,4,4,4,9,3,4, 3,3,3,1,1,1,2,1,0,0]},
{"y0":-3,"y1":-1.5,"v":[0,0,3,2,5,6,2,4,0,1, 4,1,2,1,0,3,3,2,7,5, 4,6,8,4,5,8,10,4,6,3, 2,3,3,2,1,2,2,4,2,0]},
{"y0":-4.5,"y1":-3,"v":[0,0,8,4,6,7,3,1,3,5, 0,3,2,0,3,0,3,3,6,7, 3,4,3,7,3,8,6,5,2,1, 4,3,0,3,1,6,7,8,4,1]},
{"y0":-6,"y1":-4.5,"v":[1,1,4,10,7,5,3,5,5,2, 3,2,1,8,5,2,3,3,5,5, 4,4,9,4,6,4,4,3,4,4, 2,4,3,2,1,3,1,7,4,0]},
{"y0":-7.5,"y1":-6,"v":[0,2,2,8,4,8,3,0,3,5, 4,3,4,3,3,0,4,5,7,6, 7,8,4,5,5,6,2,7,4,2, 4,4,3,0,0,3,2,0,3,0]},
{"y0":-9,"y1":-7.5,"v":[2,1,5,12,5,8,5,4,3,3, 3,2,4,5,4,10,3,6,9,4, 9,4,6,8,4,3,4,5,5,2, 2,1,2,1,1,2,3,1,0,0]},
{"y0":-10.5,"y1":-9,"v":[1,1,5,1,7,10,1,6,4,4, 2,6,5,6,7,5,5,7,4,6, 6,6,6,4,3,4,2,2,3,0, 4,5,3,1,1,1,0,2,2,0]},
{"y0":-12,"y1":-10.5,"v":[0,2,7,10,5,7,4,5,1,4, 1,3,8,3,4,5,3,7,6,3, 7,7,5,2,7,2,3,2,3,2, 4,8,3,2,0,0,0,0,1,0]},
{"y0":-13.5,"y1":-12,"v":[0,2,5,8,3,9,5,3,4,2, 5,5,2,4,4,3,8,7,4,3, 1,3,2,4,3,3,6,2,2,4, 3,5,5,0,0,0,0,0,0,0]},
{"y0":-15,"y1":-13.5,"v":[0,0,2,7,8,1,3,2,2,5, 4,2,10,3,4,4,6,5,2,5, 5,4,4,5,7,4,4,2,3,4, 1,3,5,0,2,0,0,0,0,0]},
{"y0":-16.5,"y1":-15,"v":[0,0,4,10,6,9,8,3,1,4, 4,6,3,5,3,5,3,4,6,4, 2,3,3,3,2,2,4,5,3,4, 5,2,3,2,2,0,0,0,0,0]},
{"y0":-18,"y1":-16.5,"v":[0,1,1,8,2,7,5,4,4,2, 9,5,6,1,7,2,4,5,5,3, 3,2,2,7,1,5,3,3,6,2, 4,3,2,2,2,0,0,0,0,0]},
{"y0":-19.5,"y1":-18,"v":[0,0,0,1,5,2,1,1,4,3, 1,5,5,5,4,4,4,3,4,3, 2,2,5,3,1,1,6,7,9,12, 10,3,3,1,3,0,0,0,0,0]},
{"y0":-21,"y1":-19.5,"v":[0,0,0,0,1,1,0,1,2,2, 5,4,1,4,3,7,7,3,5,1, 4,3,8,3,7,2,6,9,4,7, 3,1,2,1,0,0,0,0,0,0]},
{"y0":-22.5,"y1":-21,"v":[0,0,0,0,1,0,0,3,2,1, 0,2,2,1,2,4,3,2,1,5, 7,4,5,4,4,5,4,6,1,7, 10,4,4,2,0,0,0,0,0,0]},
{"y0":-24,"y1":-22.5,"v":[0,0,0,0,0,0,0,1,1,0, 0,1,2,1,2,1,2,3,0,6, 7,9,3,5,2,5,3,4,8,7, 12,3,3,0,0,0,0,0,0,0]},
{"y0":-25.5,"y1":-24,"v":[0,0,0,0,0,0,0,0,2,1, 4,2,2,4,1,1,1,1,1,6, 8,7,1,0,4,4,5,3,2,7, 5,2,0,0,0,0,0,0,0,0]},
{"y0":-27,"y1":-25.5,"v":[0,0,0,0,0,0,0,0,0,3, 2,0,2,2,1,1,0,0,1,1, 2,0,2,3,1,0,1,5,7,7, 1,2,0,0,0,0,0,0,0,0]},
{"y0":-28.5,"y1":-27,"v":[0,0,0,0,0,0,0,0,0,1, 1,0,2,5,2,0,2,0,0,1, 1,1,0,1,1,3,3,2,2,1, 0,0,0,0,0,0,0,0,0,0]},
{"y0":-30,"y1":-28.5,"v":[0,0,0,0,0,0,0,0,0,0, 0,1,0,0,1,0,2,0,3,0, 0,0,1,0,2,1,0,1,1,0, 0,0,0,0,0,0,0,0,0,0]}
],
"bar":[{"a":0,"b":0.234},{"a":0.234,"b":0.469},{"a":0.469,"b":0.703},{"a":0.703,"b":0.938},{"a":0.938,"b":1.172},{"a":1.172,"b":1.406},{"a":1.406,"b":1.641},{"a":1.641,"b":1.875},{"a":1.875,"b":2.109},{"a":2.109,"b":2.344},{"a":2.344,"b":2.578},{"a":2.578,"b":2.813},{"a":2.813,"b":3.047},{"a":3.047,"b":3.281},{"a":3.281,"b":3.516},{"a":3.516,"b":3.75},{"a":3.75,"b":3.984},{"a":3.984,"b":4.219},{"a":4.219,"b":4.453},{"a":4.453,"b":4.688},{"a":4.688,"b":4.922},{"a":4.922,"b":5.156},{"a":5.156,"b":5.391},{"a":5.391,"b":5.625},{"a":5.625,"b":5.859},{"a":5.859,"b":6.094},{"a":6.094,"b":6.328},{"a":6.328,"b":6.563},{"a":6.563,"b":6.797},{"a":6.797,"b":7.031},{"a":7.031,"b":7.266},{"a":7.266,"b":7.5},{"a":7.5,"b":7.734},{"a":7.734,"b":7.969},{"a":7.969,"b":8.203},{"a":8.203,"b":8.438},{"a":8.438,"b":8.672},{"a":8.672,"b":8.906},{"a":8.906,"b":9.141},{"a":9.141,"b":9.375},{"a":9.375,"b":9.609},{"a":9.609,"b":9.844},{"a":9.844,"b":10.078},{"a":10.078,"b":10.313},{"a":10.313,"b":10.547},{"a":10.547,"b":10.781},{"a":10.781,"b":11.016},{"a":11.016,"b":11.25},{"a":11.25,"b":11.484},{"a":11.484,"b":11.719},{"a":11.719,"b":11.953},{"a":11.953,"b":12.188},{"a":12.188,"b":12.422},{"a":12.422,"b":12.656},{"a":12.656,"b":12.891},{"a":12.891,"b":13.125},{"a":13.125,"b":13.359},{"a":13.359,"b":13.594},{"a":13.594,"b":13.828},{"a":13.828,"b":14.063},{"a":14.063,"b":14.297},{"a":14.297,"b":14.531},{"a":14.531,"b":14.766},{"a":14.766,"b":15}],
"marks":[{"t":5},{"t":10}]
},
"hconcat":[
{"hconcat":[
{"vconcat":[
{"width":848,"height":1,"view":{"stroke":null},"data":{"name":"none"},"mark":"rect","encoding":{}},
{"title":"Spikes-ED","width":848,"height":650,"data":{"name":"spikesED"},"transform":[{"flatten":["v"]},{"window":[{"op":"row_number","as":"c"}],"groupby":["y0"]},{"lookup":"c","from":{"data":{"name":"cols"},"key":"c","fields":["x0","x1"]}}],"mark":{"type":"rect","stroke":"black","strokeWidth":2.5},"encoding":{"x":{"field":"x0","type":"quantitative","scale":{"domain":[-30,30],"nice":false},"axis":{"values":[-30,-20,-10,0,10,20,30],"labelExpr":"''+datum.value"}},"x2":{"field":"x1"},"y":{"field":"y0","type":"quantitative","scale":{"domain":[-30,30],"nice":false},"axis":{"values":[-30,-20,-10,0,10,20,30],"labelExpr":"''+datum.value"}},"y2":{"field":"y1"},"color":{"field":"v","type":"quantitative","legend":null,"scale":{"domain":[0,1,2,3,4,5,6,7,8,9,10,11,12,13,14,15],"range":["#00008F","#0000CF","#0010FF","#0050FF","#00A0FF","#00DFFF","#20FFDF","#60FF9F","#B0FF50","#EFFF10","#FFCF00","#FF8F00","#FF4000","#FF0000","#BF0000","#800000"]}}}},
{"title":"Spikes-DTW","width":848,"height":650,"data":{"name":"spikesDTW"},"transform":[{"flatten":["v"]},{"window":[{"op":"row_number","as":"c"}],"groupby":["y0"]},{"lookup":"c","from":{"data":{"name":"cols"},"key":"c","fields":["x0","x1"]}}],"mark":{"type":"rect","stroke":"black","strokeWidth":2.5},"encoding":{"x":{"field":"x0","type":"quantitative","scale":{"domain":[-30,30],"nice":false},"axis":{"values":[-30,-20,-10,0,10,20,30],"labelExpr":"''+datum.value","labelPadding":17}},"x2":{"field":"x1"},"y":{"field":"y0","type":"quantitative","scale":{"domain":[-30,30],"nice":false},"axis":{"values":[-30,-20,-10,0,10,20,30],"labelExpr":"''+datum.value"}},"y2":{"field":"y1"},"color":{"field":"v","type":"quantitative","legend":null,"scale":{"domain":[0,1,2,3,4,5,6,7,8,9,10,11,12,13,14,15],"range":["#00008F","#0000CF","#0010FF","#0050FF","#00A0FF","#00DFFF","#20FFDF","#60FF9F","#B0FF50","#EFFF10","#FFCF00","#FF8F00","#FF4000","#FF0000","#BF0000","#800000"]}}}}
],"spacing":27},
{"vconcat":[
{"width":848,"height":10,"view":{"stroke":null},"data":{"name":"none"},"mark":"rect","encoding":{}},
{"title":"Background-ED","width":848,"height":650,"data":{"name":"bgED"},"transform":[{"flatten":["v"]},{"window":[{"op":"row_number","as":"c"}],"groupby":["y0"]},{"lookup":"c","from":{"data":{"name":"cols"},"key":"c","fields":["x0","x1"]}}],"mark":{"type":"rect","stroke":"black","strokeWidth":2.5},"encoding":{"x":{"field":"x0","type":"quantitative","scale":{"domain":[-30,30],"nice":false},"axis":{"values":[-30,-20,-10,0,10,20,30],"labelExpr":"''+datum.value"}},"x2":{"field":"x1"},"y":{"field":"y0","type":"quantitative","scale":{"domain":[-30,30],"nice":false},"axis":{"values":[-30,-20,-10,0,10,20,30],"labelExpr":"''+datum.value"}},"y2":{"field":"y1"},"color":{"field":"v","type":"quantitative","legend":null,"scale":{"domain":[0,1,2,3,4,5,6,7,8,9,10,11,12,13,14,15],"range":["#00008F","#0000CF","#0010FF","#0050FF","#00A0FF","#00DFFF","#20FFDF","#60FF9F","#B0FF50","#EFFF10","#FFCF00","#FF8F00","#FF4000","#FF0000","#BF0000","#800000"]}}}},
{"title":"Background-DTW","width":848,"height":650,"data":{"name":"bgDTW"},"transform":[{"flatten":["v"]},{"window":[{"op":"row_number","as":"c"}],"groupby":["y0"]},{"lookup":"c","from":{"data":{"name":"cols"},"key":"c","fields":["x0","x1"]}}],"mark":{"type":"rect","stroke":"black","strokeWidth":2.5},"encoding":{"x":{"field":"x0","type":"quantitative","scale":{"domain":[-30,30],"nice":false},"axis":{"values":[-30,-20,-10,0,10,20,30],"labelExpr":"''+datum.value","labelPadding":13}},"x2":{"field":"x1"},"y":{"field":"y0","type":"quantitative","scale":{"domain":[-30,30],"nice":false},"axis":{"values":[-30,-20,-10,0,10,20,30],"labelExpr":"''+datum.value"}},"y2":{"field":"y1"},"color":{"field":"v","type":"quantitative","legend":null,"scale":{"domain":[0,1,2,3,4,5,6,7,8,9,10,11,12,13,14,15],"range":["#00008F","#0000CF","#0010FF","#0050FF","#00A0FF","#00DFFF","#20FFDF","#60FF9F","#B0FF50","#EFFF10","#FFCF00","#FF8F00","#FF4000","#FF0000","#BF0000","#800000"]}}}}
],"spacing":27}
],"spacing":102},
{"vconcat":[
{"width":35,"height":1,"view":{"stroke":null},"data":{"name":"none"},"mark":"rect","encoding":{}},
{"width":35,"height":1473,"title":" ","layer":[
{"data":{"name":"bar"},"mark":{"type":"rect"},"encoding":{"y":{"field":"a","type":"quantitative","scale":{"domain":[0,15],"nice":false},"axis":{"orient":"right","values":[0,5,10,15],"labelFontSize":40,"labelPadding":14,"labelExpr":"''+datum.value"}},"y2":{"field":"b"},"color":{"field":"a","type":"quantitative","legend":null,"scale":{"domain":[0,1,2,3,4,5,6,7,8,9,10,11,12,13,14,15],"range":["#00008F","#0000CF","#0010FF","#0050FF","#00A0FF","#00DFFF","#20FFDF","#60FF9F","#B0FF50","#EFFF10","#FFCF00","#FF8F00","#FF4000","#FF0000","#BF0000","#800000"]}}}},
{"data":{"name":"marks"},"mark":{"type":"rule","color":"black","strokeWidth":2,"strokeDash":[14,8]},"encoding":{"y":{"field":"t","type":"quantitative"}}}
]}
],"spacing":27}
]}
